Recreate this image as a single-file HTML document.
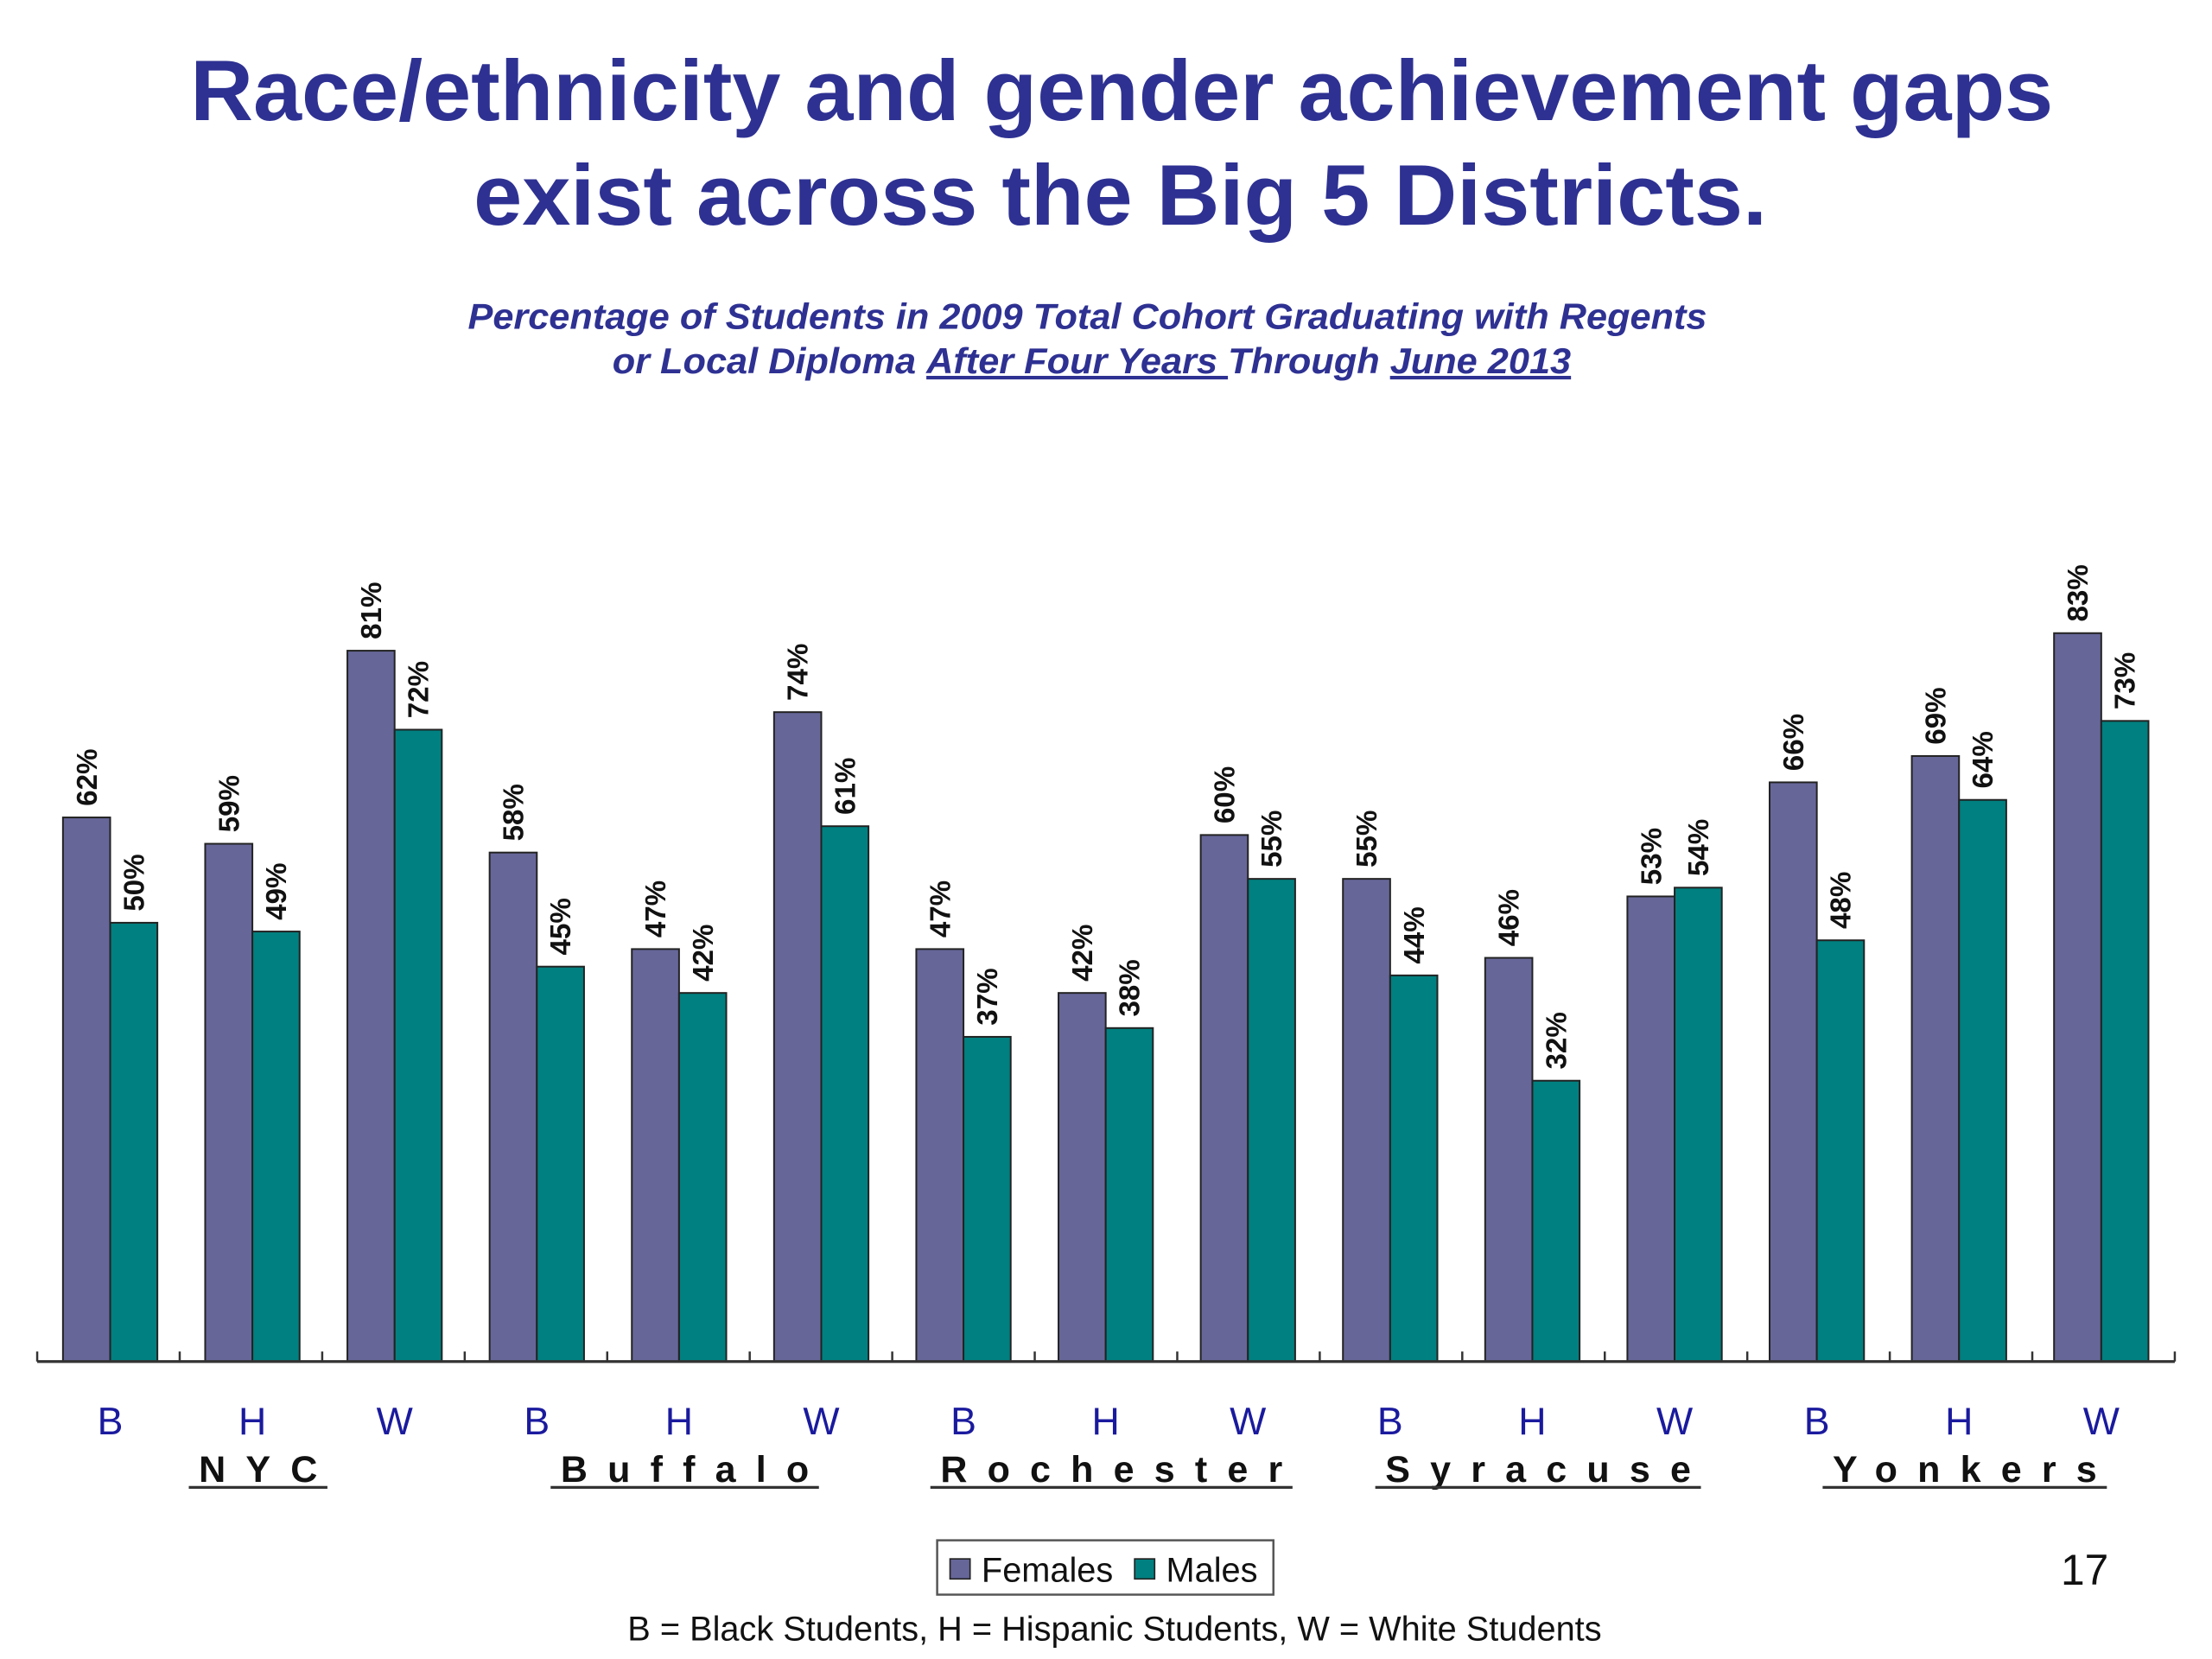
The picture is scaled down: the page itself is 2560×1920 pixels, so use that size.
<!DOCTYPE html>
<html><head><meta charset="utf-8"><style>
html,body{margin:0;padding:0;background:#fff;width:2560px;height:1920px;overflow:hidden}
svg{display:block}
text{font-family:"Liberation Sans",Arial,sans-serif}
</style></head><body>
<svg id="chart" width="2560" height="1920" viewBox="0 0 1546 1160" preserveAspectRatio="none" xmlns="http://www.w3.org/2000/svg">
<text x="784" y="84" text-anchor="middle" font-size="60" font-weight="bold" fill="#2e3192" textLength="1302" lengthAdjust="spacingAndGlyphs">Race/ethnicity and gender achievement gaps</text>
<text x="783" y="157" text-anchor="middle" font-size="60" font-weight="bold" fill="#2e3192" textLength="904" lengthAdjust="spacingAndGlyphs">exist across the Big 5 Districts.</text>
<text x="760" y="230" text-anchor="middle" font-size="25" font-weight="bold" font-style="italic" fill="#2e3192" textLength="866" lengthAdjust="spacingAndGlyphs">Percentage of Students in 2009 Total Cohort Graduating with Regents</text>
<text x="763" y="261" text-anchor="middle" font-size="25" font-weight="bold" font-style="italic" fill="#2e3192" textLength="670" lengthAdjust="spacingAndGlyphs">or Local Diploma <tspan text-decoration="underline">After Four Years </tspan>Through <tspan text-decoration="underline">June 2013</tspan></text>
<g id="bars"></g>
<line x1="26" y1="952" x2="1520" y2="952" stroke="#333" stroke-width="2"/>
<g id="ticks"></g>
<g id="cats"></g>
<g id="districts"></g>
<rect x="655" y="1077" width="235" height="38" fill="#fff" stroke="#555" stroke-width="1.5"/>
<rect x="664" y="1090" width="14" height="14" fill="#666699" stroke="#222"/>
<text x="686" y="1106" font-size="24" fill="#111">Females</text>
<rect x="793" y="1090" width="14" height="14" fill="#008080" stroke="#222"/>
<text x="815" y="1106" font-size="24" fill="#111">Males</text>
<text x="1457" y="1108" text-anchor="middle" font-size="30" fill="#111">17</text>
<text x="779" y="1147" text-anchor="middle" font-size="24" fill="#111">B = Black Students, H = Hispanic Students, W = White Students</text>
</svg>
<script>
const categories = ["B","H","W","B","H","W","B","H","W","B","H","W","B","H","W"];
const districts = ["NYC","Buffalo","Rochester","Syracuse","Yonkers"];
const females = [62,59,81,58,47,74,47,42,60,55,46,53,66,69,83];
const males = [50,49,72,45,42,61,37,38,55,44,32,54,48,64,73];

const NS = "http://www.w3.org/2000/svg";
const baseY = 952, pxPer = 6.136, x0 = 44, pitch = 99.4, bw = 33;
function yScale(v){ return baseY - v * pxPer; }
function xScale(i){ return x0 + i * pitch; }
function mk(tag, attrs, parent){ const e = document.createElementNS(NS, tag); for (const k in attrs) e.setAttribute(k, attrs[k]); parent.appendChild(e); return e; }

const gb = document.getElementById('bars');
const series = [[females, "#666699", 0, "female"], [males, "#008080", 1, "male"]];
series.forEach(([vals, col, off, nm]) => {
  vals.forEach((v, i) => {
    const x = xScale(i) + off * bw, y = yScale(v);
    const r = mk('rect', {x: x, y: y, width: bw, height: baseY - y, fill: col, stroke: "#222", "stroke-width": 1.2}, gb);
    
    
    const cx = x + bw / 2 + 7, ty = y - 8;
    const t = mk('text', {x: cx, y: ty, transform: `rotate(-90 ${cx} ${ty})`, "font-size": 20, "font-weight": "bold", fill: "#111"}, gb);
    t.textContent = v + "%";
    
    
  });
});

const gt = document.getElementById('ticks');
for (let i = 0; i <= categories.length; i++) {
  const x = 26 + i * 99.6;
  const l = mk('line', {x1: x, y1: baseY, x2: x, y2: baseY - 7, stroke: "#333", "stroke-width": 1.5}, gt);
  
  
}
const gc = document.getElementById('cats');
categories.forEach((c, i) => {
  const t = mk('text', {x: xScale(i) + bw, y: 1003, "text-anchor": "middle", "font-size": 27, fill: "#1a1a9e"}, gc);
  t.textContent = c;
  
  
});
const gd = document.getElementById('districts');
districts.forEach((d, j) => {
  const cx = xScale(j * 3 + 1) + bw + 4;
  const t = mk('text', {x: cx + 7, y: 1036, "text-anchor": "middle", "font-size": 26, "font-weight": "bold", fill: "#111", "letter-spacing": "14"}, gd);
  t.textContent = d;
  
  
  const w = t.getComputedTextLength ? t.getComputedTextLength() : 100;
  const l = mk('line', {x1: cx - w / 2, y1: 1040, x2: cx + w / 2, y2: 1040, stroke: "#333", "stroke-width": 2}, gd);
  
  
});
</script>
</body></html>
